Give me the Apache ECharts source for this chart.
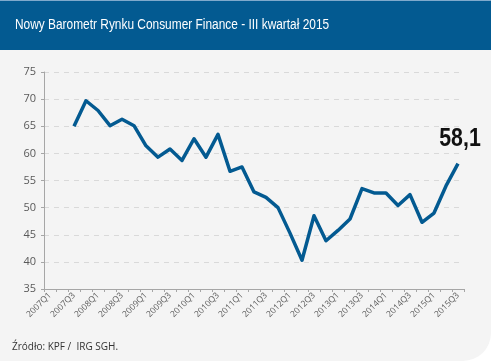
<!DOCTYPE html>
<html><head><meta charset="utf-8">
<script src="https://cdn.jsdelivr.net/npm/echarts@6/dist/echarts.min.js"></script>
<style>html,body{margin:0;padding:0;background:#fff}#c{width:491px;height:361px}</style>
</head><body><div id="c"></div>
<script>
const title = 'Nowy Barometr Rynku Consumer Finance - III kwartał 2015';
const source = 'Źródło: KPF /  IRG SGH.';
const years = ['2007','2008','2009','2010','2011','2012','2013','2014','2015'];
const categories = [];
years.forEach(y => ['Q1','Q2','Q3','Q4'].forEach(q => categories.push(y + q)));
categories.splice(35);
const values = [null, null, 65.0, 69.7, 67.9, 65.1, 66.3, 65.1, 61.4, 59.3, 60.8, 58.7, 62.7, 59.3, 63.5, 56.7, 57.5, 52.9, 51.9, 50.0, 45.3, 40.3, 48.5, 43.9, 45.8, 47.9, 53.5, 52.7, 52.7, 50.4, 52.4, 47.3, 49.0, 54.0, 58.1];
const lastLabel = '58,1';
const yTicks = [35, 40, 45, 50, 55, 60, 65, 70, 75];

const chart = echarts.init(document.getElementById('c'));
const baseGraphic = [
  {id: 'bg', type: 'rect', shape: {x: 0, y: 0, width: 491, height: 361, r: [0, 0, 28, 0]}, style: {fill: '#f4f4f4'}, z: -10},
  {id: 'bar', type: 'rect', shape: {x: 0, y: 0, width: 491, height: 50}, style: {fill: '#035a91'}, z: -9},
  {id: 'barline', type: 'rect', shape: {x: 0, y: 0, width: 491, height: 1}, style: {fill: '#7fa9cc'}, z: -8},
  {id: 'title', type: 'text', x: 15, y: 25, scaleX: 0.85, style: {text: title, fill: '#ffffff', font: '14px "Liberation Sans", sans-serif', textVerticalAlign: 'middle'}},
  {id: 'src', type: 'text', x: 12, y: 347, style: {text: source, fill: '#333333', font: '10px "Open Sans", sans-serif', textVerticalAlign: 'middle'}}
];
chart.setOption({
  animation: false,
  backgroundColor: '#ffffff',
  graphic: baseGraphic,
  grid: {left: 44, right: 27, top: 72, bottom: 72, containLabel: false},
  xAxis: {
    type: 'category', data: categories, boundaryGap: true,
    axisLine: {lineStyle: {color: '#a6a6a6'}},
    axisTick: {show: true, interval: 0, length: 3, lineStyle: {color: '#a6a6a6'}},
    axisLabel: {interval: 1, rotate: 45, fontSize: 8.5, color: '#595959', fontFamily: 'Open Sans', margin: 5}
  },
  yAxis: {
    type: 'value', min: yTicks[0], max: yTicks[yTicks.length - 1], interval: 5,
    axisLine: {show: true, lineStyle: {color: '#a6a6a6'}},
    axisTick: {show: true, length: 3, lineStyle: {color: '#a6a6a6'}},
    axisLabel: {fontSize: 11, color: '#595959', fontFamily: 'Open Sans', margin: 8},
    splitLine: {lineStyle: {color: '#d9d9d9', type: [5, 5]}}
  },
  series: [{
    type: 'line', data: values,
    showSymbol: false, symbol: 'none', connectNulls: false,
    lineStyle: {color: '#035a91', width: 3.5, join: 'round'},
    itemStyle: {color: '#035a91'}
  }]
});
const last = values.length - 1;
const p = chart.convertToPixel({seriesIndex: 0}, [last, values[last]]);
chart.setOption({graphic: [{
  id: 'lastLabel', type: 'text', x: p[0] + 2, y: p[1] - 12, scaleX: 0.82,
  style: {text: lastLabel, fill: '#111111', font: 'bold 26px "Liberation Sans", sans-serif', textAlign: 'center', textVerticalAlign: 'bottom'}
}]});
</script></body></html>
